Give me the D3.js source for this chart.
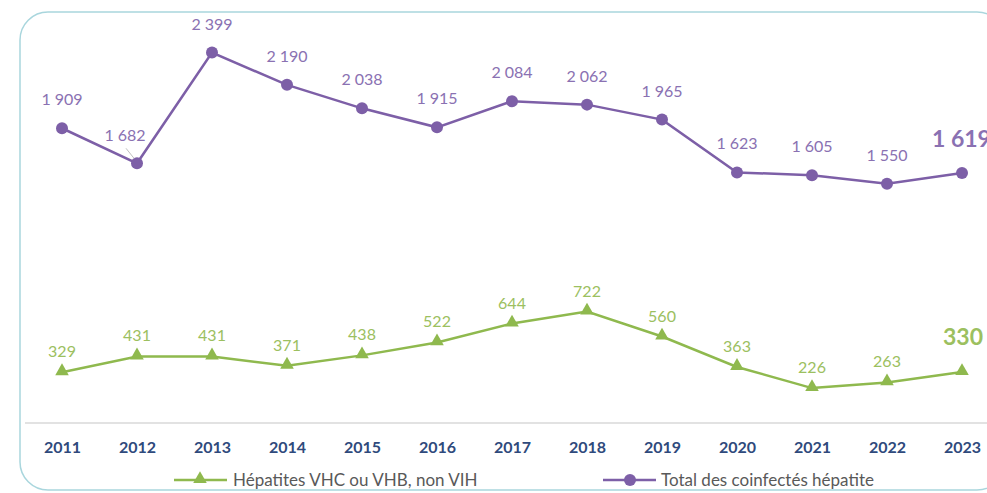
<html>
<head>
<meta charset="utf-8">
<title>Coinfections hépatite</title>
<style>
  body { margin: 0; background: #fff; }
  text { font-family: Lato, "Open Sans", "Noto Sans", sans-serif; }
</style>
</head>
<body>
<script src="https://cdn.jsdelivr.net/npm/d3@7"></script>
<script>
var years = [2011, 2012, 2013, 2014, 2015, 2016, 2017, 2018, 2019, 2020, 2021, 2022, 2023];
var totalCoinf = [1909, 1682, 2399, 2190, 2038, 1915, 2084, 2062, 1965, 1623, 1605, 1550, 1619];
var hepNonVih = [329, 431, 431, 371, 438, 522, 644, 722, 560, 363, 226, 263, 330];
var seriesNames = ["Hépatites VHC ou VHB, non VIH", "Total des coinfectés hépatite"];

var W = 987, H = 493;
var purple = "#7d5fa7", purpleTxt = "#8a71b2";
var green = "#8fb94e", greenTxt = "#9cc05f";

var svg = d3.select("body").append("svg")
    .attr("width", W)
    .attr("height", H);

// cadre arrondi
svg.append("rect")
    .attr("x", 20).attr("y", 12)
    .attr("width", 985).attr("height", 478)
    .attr("rx", 28)
    .attr("fill", "none")
    .attr("stroke", "#a9d6dd")
    .attr("stroke-width", 1.5);

var x = d3.scalePoint()
    .domain(years)
    .range([62, 962]);

var y = d3.scaleLinear()
    .domain([0, 2500])
    .range([423, 37]);

// axe x
var xAxis = d3.axisBottom(x).tickSize(0).tickPadding(19).tickFormat(d3.format("d"));
var gx = svg.append("g")
    .attr("transform", "translate(0,423)")
    .call(xAxis);
gx.select(".domain").attr("d", "M25,0H987").attr("stroke", "#d9d9d9").attr("stroke-width", 1.3);
gx.selectAll("text")
    .attr("fill", "#2f4a7c")
    .attr("font-size", 16)
    .attr("font-weight", "bold")
    .style("font-family", "Lato, 'Open Sans', sans-serif");

var fmt = function(v) { return d3.format(",")(v).replace(/,/g, " "); };

var line = d3.line()
    .x(function(d, i) { return x(years[i]); })
    .y(function(d) { return y(d); });

// total
svg.append("path")
    .attr("d", line(totalCoinf))
    .attr("fill", "none")
    .attr("stroke", purple)
    .attr("stroke-width", 2.5);

svg.selectAll(".pt-total")
    .data(totalCoinf)
    .enter().append("circle")
    .attr("cx", function(d, i) { return x(years[i]); })
    .attr("cy", function(d) { return y(d); })
    .attr("r", 6)
    .attr("fill", purple);

// trait de rappel 2012
svg.append("line")
    .attr("x1", x(2012) - 11).attr("y1", y(1682) - 15)
    .attr("x2", x(2012) - 3).attr("y2", y(1682) - 5)
    .attr("stroke", "#bfbfbf").attr("stroke-width", 1);

svg.selectAll(".lab-total")
    .data(totalCoinf)
    .enter().append("text")
    .attr("x", function(d, i) {
        if (i === 1) return x(years[i]) - 12;
        if (i === 12) return x(years[i]) - 30;
        return x(years[i]);
    })
    .attr("y", function(d, i) {
        if (i === 1) return y(d) - 22;
        if (i === 12) return y(d) - 26;
        return y(d) - 23;
    })
    .attr("text-anchor", function(d, i) { return i === 12 ? "start" : "middle"; })
    .attr("fill", purpleTxt)
    .attr("font-size", function(d, i) { return i === 12 ? 23 : 16; })
    .attr("font-weight", function(d, i) { return i === 12 ? "bold" : "normal"; })
    .text(function(d) { return fmt(d); });

// hépatites non VIH
svg.append("path")
    .attr("d", line(hepNonVih))
    .attr("fill", "none")
    .attr("stroke", green)
    .attr("stroke-width", 2.5);

var tri = d3.symbol().type(d3.symbolTriangle).size(80);
svg.selectAll(".pt-hep")
    .data(hepNonVih)
    .enter().append("path")
    .attr("d", tri)
    .attr("transform", function(d, i) { return "translate(" + x(years[i]) + "," + (y(d) - 1) + ")"; })
    .attr("fill", green);

svg.selectAll(".lab-hep")
    .data(hepNonVih)
    .enter().append("text")
    .attr("x", function(d, i) { return i === 12 ? x(years[i]) + 1 : x(years[i]); })
    .attr("y", function(d, i) { return i === 12 ? y(d) - 27 : y(d) - 15; })
    .attr("text-anchor", "middle")
    .attr("fill", greenTxt)
    .attr("font-size", function(d, i) { return i === 12 ? 23 : 16; })
    .attr("font-weight", function(d, i) { return i === 12 ? "bold" : "normal"; })
    .text(function(d) { return d; });

// légende
var leg = svg.append("g").attr("transform", "translate(0,480)");
leg.append("line").attr("x1", 174).attr("x2", 227).attr("y1", 0).attr("y2", 0)
    .attr("stroke", green).attr("stroke-width", 2.5);
leg.append("path").attr("d", tri).attr("transform", "translate(200,-1)").attr("fill", green);
leg.append("text").attr("x", 233).attr("y", 6).attr("fill", "#595959").attr("font-size", 17)
    .text(seriesNames[0]);

leg.append("line").attr("x1", 603).attr("x2", 656).attr("y1", 0).attr("y2", 0)
    .attr("stroke", purple).attr("stroke-width", 2.5);
leg.append("circle").attr("cx", 630).attr("cy", 0).attr("r", 6).attr("fill", purple);
leg.append("text").attr("x", 661).attr("y", 6).attr("fill", "#595959").attr("font-size", 17)
    .text(seriesNames[1]);
</script>
</body>
</html>
